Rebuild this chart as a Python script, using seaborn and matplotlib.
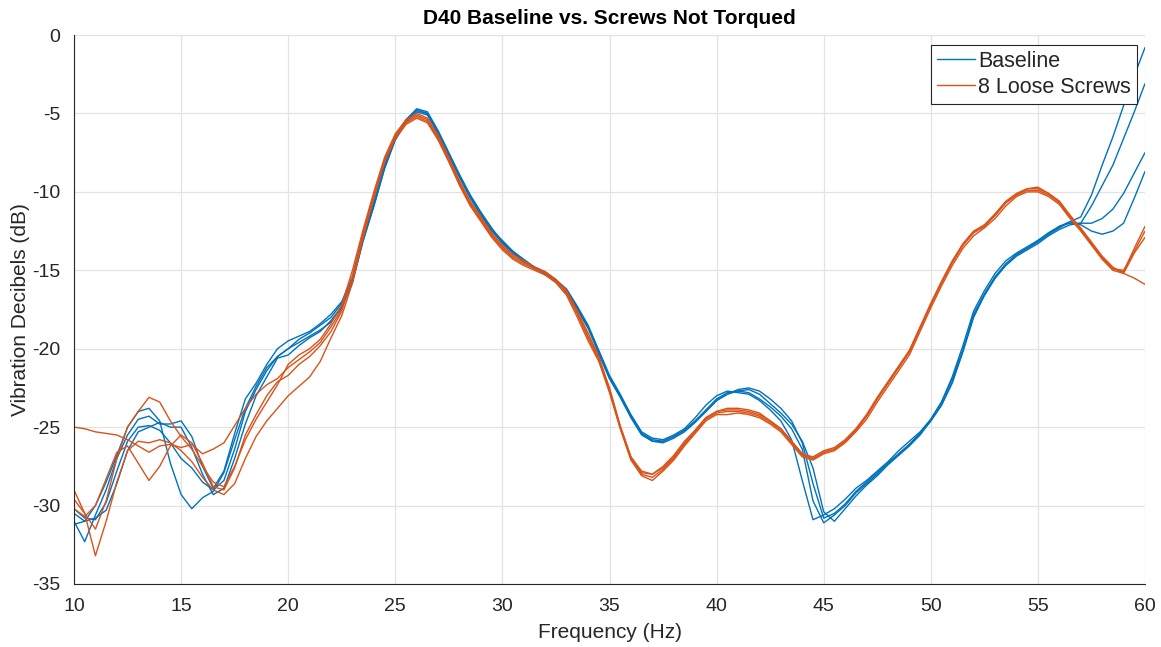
import numpy as np
import pandas as pd
import matplotlib
matplotlib.use("Agg")
import matplotlib.pyplot as plt
from matplotlib.lines import Line2D
import seaborn as sns

# Measurement grid (Hz), 0.5 Hz spacing
freq = np.arange(10.0, 60.5, 0.5)

# Baseline runs (dB)
baseline_1 = [
    -30.5, -31.0, -30.0, -28.5, -26.8, -25.0, -24.0, -23.8, -24.6, -27.3,
    -29.3, -30.2, -29.5, -29.1, -27.9, -25.8, -23.8, -22.4, -21.2, -20.5,
    -20.0, -19.4, -19.0, -18.5, -18.0, -17.1, -15.7, -13.1, -10.9, -8.5,
    -6.6, -5.4, -4.7, -4.9, -6.1, -7.5, -8.9, -10.2, -11.3, -12.3,
    -13.2, -13.8, -14.3, -14.8, -15.1, -15.6, -16.2, -17.3, -18.5, -20.1,
    -21.7, -22.9, -24.2, -25.3, -25.7, -25.8, -25.5, -25.1, -24.4, -23.6,
    -23.0, -22.7, -22.8, -22.9, -23.3, -23.9, -24.6, -25.8, -28.4, -30.9,
    -30.6, -30.2, -29.6, -28.9, -28.4, -27.8, -27.2, -26.5, -25.9, -25.3,
    -24.5, -23.4, -21.8, -19.8, -17.6, -16.3, -15.2, -14.4, -13.9, -13.5,
    -13.1, -12.7, -12.3, -11.9, -11.6, -10.2, -8.3, -6.5, -4.5, -2.6,
    -0.8,
]
baseline_2 = [
    -31.0, -32.3, -30.6, -29.0, -27.0, -25.5, -24.5, -24.3, -24.8, -24.8,
    -24.6, -25.6, -27.5, -28.9, -27.8, -25.4, -23.2, -22.2, -21.0, -20.0,
    -19.5, -19.2, -18.9, -18.4, -17.8, -17.0, -15.4, -12.9, -10.7, -8.3,
    -6.5, -5.4, -4.8, -5.0, -6.2, -7.6, -9.0, -10.3, -11.4, -12.4,
    -13.3, -13.9, -14.4, -14.9, -15.2, -15.6, -16.3, -17.4, -18.6, -20.3,
    -21.9, -23.1, -24.4, -25.5, -25.9, -26.0, -25.7, -25.3, -24.7, -24.0,
    -23.3, -22.9, -22.6, -22.5, -22.7, -23.2, -23.8, -24.6, -26.0, -28.6,
    -30.8, -30.5, -29.9, -29.1, -28.5, -27.9, -27.3, -26.7, -26.1, -25.4,
    -24.6, -23.6, -22.2, -20.2, -18.0, -16.6, -15.5, -14.7, -14.1, -13.7,
    -13.3, -12.8, -12.4, -12.1, -12.0, -10.9, -9.6, -8.3, -6.6, -4.9,
    -3.1,
]
baseline_3 = [
    -30.2, -30.8, -30.9, -29.8, -27.8, -25.9, -25.0, -24.9, -25.2, -26.0,
    -27.0, -27.6, -28.5, -29.0, -28.4, -26.4, -24.0, -22.6, -21.4, -20.5,
    -20.0, -19.6, -19.2, -18.8, -18.3, -17.4, -15.8, -13.1, -10.9, -8.5,
    -6.7, -5.6, -4.9, -5.1, -6.3, -7.7, -9.1, -10.4, -11.5, -12.5,
    -13.2, -13.9, -14.5, -14.8, -15.3, -15.7, -16.4, -17.5, -18.7, -20.3,
    -21.9, -23.0, -24.3, -25.4, -25.9, -25.9, -25.6, -25.2, -24.6, -23.9,
    -23.2, -22.8, -22.7, -22.8, -23.2, -23.7, -24.3, -25.1, -26.4, -29.7,
    -31.1, -30.6, -30.0, -29.2, -28.6, -28.0, -27.3, -26.7, -26.1, -25.4,
    -24.5, -23.4, -21.9, -20.1, -17.9, -16.6, -15.5, -14.6, -14.0, -13.6,
    -13.1, -12.6, -12.2, -12.0, -12.0, -12.0, -11.7, -11.1, -10.1, -8.8,
    -7.5,
]
baseline_4 = [
    -31.2, -31.0, -30.8, -30.3, -28.6, -26.5, -25.3, -25.0, -24.7, -25.0,
    -25.0, -26.3, -28.0, -29.3, -28.9, -27.0, -24.8, -23.0, -21.8, -20.6,
    -20.4, -19.8, -19.3, -18.9, -18.2, -17.3, -15.6, -13.0, -10.7, -8.4,
    -6.6, -5.5, -4.8, -5.0, -6.2, -7.6, -9.0, -10.3, -11.4, -12.4,
    -13.1, -13.8, -14.4, -14.8, -15.2, -15.6, -16.3, -17.4, -18.6, -20.2,
    -21.8, -23.0, -24.3, -25.4, -25.8, -25.9, -25.6, -25.2, -24.6, -24.0,
    -23.3, -22.9, -22.7, -22.6, -22.9, -23.5, -24.1, -24.8, -25.9, -27.6,
    -30.4, -31.0, -30.2, -29.4, -28.7, -28.1, -27.4, -26.8, -26.2, -25.5,
    -24.6, -23.6, -22.1, -20.1, -17.8, -16.5, -15.4, -14.6, -14.0, -13.6,
    -13.2, -12.7, -12.2, -11.9, -12.1, -12.5, -12.7, -12.5, -12.0, -10.4,
    -8.7,
]

# Runs with 8 loose screws (dB)
loose_1 = [
    -25.0, -25.1, -25.3, -25.4, -25.5, -25.8, -26.2, -26.6, -26.2, -26.1,
    -26.3, -26.1, -26.7, -26.4, -26.0, -24.9, -23.8, -22.9, -22.3, -21.9,
    -21.2, -20.7, -20.2, -19.6, -18.6, -17.5, -15.4, -12.6, -10.2, -7.9,
    -6.4, -5.5, -5.1, -5.4, -6.5, -7.9, -9.4, -10.7, -11.7, -12.7,
    -13.5, -14.1, -14.5, -14.8, -15.1, -15.6, -16.4, -17.7, -19.2, -20.6,
    -22.6, -25.0, -26.9, -27.9, -28.0, -27.5, -26.8, -25.9, -25.2, -24.4,
    -24.0, -23.9, -23.9, -24.0, -24.2, -24.6, -25.1, -25.9, -26.7, -26.9,
    -26.5, -26.3, -25.8, -25.1, -24.2, -23.1, -22.1, -21.1, -20.1, -18.6,
    -17.1, -15.7, -14.4, -13.3, -12.5, -12.1, -11.4, -10.6, -10.1, -9.8,
    -9.8, -10.1, -10.6, -11.5, -12.3, -13.2, -14.1, -14.8, -15.2, -15.5,
    -15.9,
]
loose_2 = [
    -29.6, -30.5, -31.5, -29.7, -27.0, -25.0, -24.0, -23.1, -23.4, -24.6,
    -25.6, -26.4, -27.5, -28.5, -28.8, -27.5, -25.8, -24.5, -23.4, -22.3,
    -21.0, -20.4, -20.0, -19.4, -18.4, -17.2, -15.0, -12.4, -10.0, -7.8,
    -6.3, -5.4, -5.0, -5.3, -6.4, -7.8, -9.3, -10.6, -11.6, -12.6,
    -13.4, -14.0, -14.4, -14.8, -15.1, -15.6, -16.3, -17.6, -19.0, -20.5,
    -22.5, -24.9, -26.9, -27.8, -28.0, -27.6, -26.9, -26.0, -25.2, -24.4,
    -24.0, -23.8, -23.8, -23.9, -24.1, -24.6, -25.1, -25.9, -26.7, -27.0,
    -26.6, -26.4, -25.9, -25.2, -24.3, -23.2, -22.2, -21.2, -20.2, -18.7,
    -17.2, -15.8, -14.5, -13.4, -12.6, -12.2, -11.5, -10.7, -10.2, -9.8,
    -9.7, -10.1, -10.6, -11.5, -12.4, -13.3, -14.2, -14.9, -15.1, -13.6,
    -12.2,
]
loose_3 = [
    -29.0, -30.5, -33.2, -31.0, -28.5, -26.5, -25.9, -26.0, -25.8, -26.0,
    -26.5, -27.2, -28.2, -29.0, -29.3, -28.6, -27.0, -25.6, -24.6, -23.8,
    -23.0, -22.4, -21.8, -20.8, -19.3, -17.9, -15.8, -12.9, -10.4, -8.1,
    -6.6, -5.7, -5.3, -5.6, -6.7, -8.1, -9.6, -10.9, -11.9, -12.9,
    -13.7, -14.3, -14.7, -15.0, -15.3, -15.8, -16.6, -18.0, -19.5, -20.8,
    -22.8, -25.1, -27.1, -28.1, -28.4, -27.8, -27.1, -26.2, -25.4, -24.6,
    -24.2, -24.2, -24.1, -24.2, -24.4, -24.8, -25.3, -26.1, -26.9, -27.1,
    -26.7, -26.5, -26.0, -25.3, -24.5, -23.4, -22.4, -21.4, -20.4, -18.9,
    -17.4, -16.0, -14.7, -13.6, -12.8, -12.3, -11.7, -10.9, -10.3, -10.0,
    -10.0, -10.3, -10.8, -11.7, -12.5, -13.4, -14.3, -15.0, -15.2, -13.9,
    -12.9,
]
loose_4 = [
    -30.2, -30.7, -30.0, -28.3, -26.6, -26.2, -27.3, -28.4, -27.5, -26.2,
    -25.5, -26.0, -27.3, -28.8, -29.0, -27.6, -25.5, -24.2, -23.0, -22.1,
    -21.7, -21.0, -20.5, -19.8, -18.9, -17.6, -15.4, -12.7, -10.3, -8.0,
    -6.5, -5.6, -5.2, -5.5, -6.6, -8.0, -9.5, -10.8, -11.8, -12.8,
    -13.6, -14.2, -14.6, -14.9, -15.2, -15.7, -16.5, -17.8, -19.3, -20.7,
    -22.7, -25.0, -27.0, -28.0, -28.2, -27.7, -27.0, -26.1, -25.3, -24.5,
    -24.1, -24.0, -24.0, -24.1, -24.3, -24.7, -25.2, -26.0, -26.8, -27.0,
    -26.6, -26.4, -25.9, -25.2, -24.3, -23.2, -22.2, -21.2, -20.2, -18.7,
    -17.2, -15.8, -14.5, -13.4, -12.6, -12.2, -11.5, -10.7, -10.2, -9.9,
    -9.9, -10.2, -10.7, -11.6, -12.4, -13.3, -14.2, -14.9, -15.0, -13.8,
    -12.5,
]

groups = ["Baseline", "8 Loose Screws"]
runs = {
    "Baseline": [baseline_1, baseline_2, baseline_3, baseline_4],
    "8 Loose Screws": [loose_1, loose_2, loose_3, loose_4],
}
colors = {"Baseline": "#0072BD", "8 Loose Screws": "#D95319"}

x_ticks = [10, 15, 20, 25, 30, 35, 40, 45, 50, 55, 60]
y_ticks = [0, -5, -10, -15, -20, -25, -30, -35]

# Long-form table: one row per (group, run, frequency)
frames = []
for g in groups:
    for i, vals in enumerate(runs[g]):
        frames.append(pd.DataFrame({
            "Frequency (Hz)": freq,
            "dB": vals,
            "group": g,
            "run": f"{g}-{i}",
        }))
df = pd.concat(frames, ignore_index=True)

sns.set_style("white")
plt.rcParams["font.family"] = ["Liberation Sans", "DejaVu Sans"]
plt.rcParams["axes.unicode_minus"] = False

fig = plt.figure(figsize=(11.61, 6.47), dpi=100)
ax = fig.add_axes([74 / 1161, 1 - 584 / 647, (1145 - 74) / 1161, (584 - 35) / 647])

for g in groups:
    sub = df[df["group"] == g]
    sns.lineplot(data=sub, x="Frequency (Hz)", y="dB", units="run",
                 estimator=None, color=colors[g], linewidth=1.0,
                 sort=False, ax=ax, legend=False)

ax.set_xlim(10, 60)
ax.set_ylim(-35, 0)
ax.set_xticks(x_ticks)
ax.set_yticks(y_ticks)
ax.set_xticklabels([str(t) for t in x_ticks])
ax.set_yticklabels([str(t) for t in y_ticks])

ax.grid(True, color="#E3E3E3", linewidth=0.9)
ax.set_axisbelow(True)
for side in ("top", "right"):
    ax.spines[side].set_visible(False)
for side in ("left", "bottom"):
    ax.spines[side].set_color("#262626")
    ax.spines[side].set_linewidth(0.8)

ax.tick_params(axis="both", direction="in", length=7, width=0.8,
               colors="#262626", labelsize=14)
ax.tick_params(axis="x", pad=10)
ax.tick_params(axis="y", pad=10)

ax.set_xlabel("Frequency (Hz)", fontsize=15, color="#262626", labelpad=6)
ax.set_ylabel("Vibration Decibels (dB)", fontsize=15, color="#262626", labelpad=1)
ax.set_title("D40 Baseline vs. Screws Not Torqued", fontsize=15,
             fontweight="bold", color="black", pad=8)

handles = [Line2D([0], [0], color=colors[g], linewidth=1.0) for g in groups]
leg = ax.legend(handles, groups, loc="upper right",
                bbox_to_anchor=((1137 - 74) / 1071, (584 - 45) / 549),
                borderaxespad=0, fontsize=15.5, frameon=True, fancybox=False,
                framealpha=1, edgecolor="#262626", handlelength=1.75,
                handletextpad=0.15, labelspacing=0.22, borderpad=0.28)
leg.get_frame().set_linewidth(0.8)

fig.savefig("out.png", dpi=100, facecolor="white")
